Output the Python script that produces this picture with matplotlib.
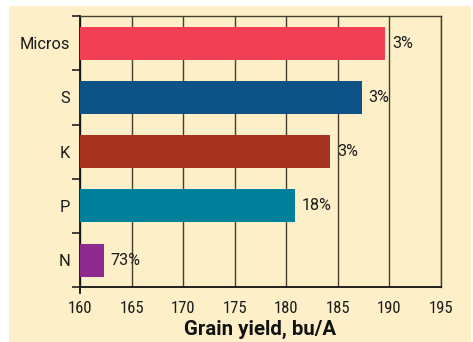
import matplotlib
matplotlib.use("Agg")
import matplotlib.pyplot as plt
from matplotlib.ticker import FixedLocator

categories = ["Micros", "S", "K", "P", "N"]
yields = [189.6, 187.3, 184.25, 180.8, 162.3]
pct_labels = ["3%", "3%", "3%", "18%", "73%"]
colors = ["#F03E54", "#0E5388", "#A63320", "#00809B", "#8E2A8E"]
xticks = [160, 165, 170, 175, 180, 185, 190, 195]

plt.rcParams['font.family'] = ['Roboto Condensed', 'DejaVu Sans']
word_font = ['Roboto', 'DejaVu Sans']

bg = "#FDEFC8"
fig = plt.figure(figsize=(4.73, 3.42), dpi=100)
fig.patch.set_facecolor("white")
# panel background
fig.add_artist(plt.Rectangle((9/473, 0), (471-9)/473, 1 - 6/342,
                             transform=fig.transFigure, facecolor=bg,
                             edgecolor="none", zorder=-10))

ax = fig.add_axes([80/473, 1 - 287.3/342, (441-80)/473, (287.3-16)/342])
ax.set_facecolor(bg)

ypos = list(range(len(categories)))
ax.barh(ypos, [v - 160 for v in yields], left=160, height=0.61,
        color=colors, zorder=3)
for y, v, t in zip(ypos, yields, pct_labels):
    ax.annotate(t, (v, y), xytext=(4.8, 0), textcoords="offset points",
                va="center", ha="left", fontsize=11.6, color="#1a1a1a",
                zorder=4, family=word_font)

ax.set_xlim(160, 195)
ax.set_ylim(4.5, -0.5)
ax.set_xticks(xticks)
ax.set_xticklabels([str(x) for x in xticks], fontsize=12, color="#1a1a1a")
ax.set_yticks(ypos)
ax.set_yticklabels(categories, fontsize=11.8, color="#1a1a1a", family=word_font)
ax.yaxis.set_minor_locator(FixedLocator([-0.5, 0.5, 1.5, 2.5, 3.5, 4.5]))
ax.tick_params(axis='y', which='major', length=0, pad=7)
ax.tick_params(axis='y', which='minor', length=5.5, width=1.2, color="#222222")
ax.tick_params(axis='x', which='major', length=0, pad=10)

ax.grid(axis='x', color="#444030", linewidth=1.0, zorder=1)
for s in ["left", "bottom"]:
    ax.spines[s].set_color("#111111")
    ax.spines[s].set_linewidth(1.3)
for s in ["top", "right"]:
    ax.spines[s].set_color("#444030")
    ax.spines[s].set_linewidth(1.0)

# small extension of left axis below bottom spine
ax.plot([160, 160], [4.5, 4.6], color="#111111", linewidth=1.3,
        clip_on=False, zorder=5)

ax.set_xlabel("Grain yield, bu/A", fontsize=14.7, fontweight="bold",
              color="#111111", labelpad=2.5, family=word_font)

fig.savefig("out.png", dpi=100, facecolor="white")
